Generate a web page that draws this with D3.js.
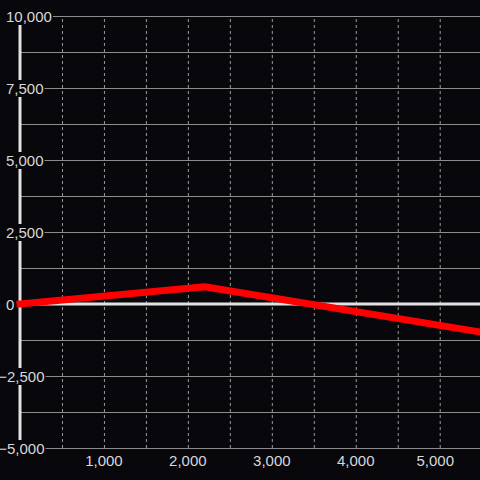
<!DOCTYPE html>
<html>
<head>
<meta charset="utf-8">
<script src="https://cdn.jsdelivr.net/npm/d3@7"></script>
<style>
  html, body { margin: 0; padding: 0; background: #08070b; }
  svg { display: block; }
  text { font-family: "Liberation Sans", Arial, sans-serif; font-size: 15px; fill: #d8d8d8; }
</style>
</head>
<body>
<script>
const width = 480;
const height = 480;

// data
const xValues = [0, 2200, 5480];
const yValues = [0, 600, -970];

// ticks
const xGridTicks = [500, 1000, 1500, 2000, 2500, 3000, 3500, 4000, 4500, 5000];
const xLabelTicks = [1000, 2000, 3000, 4000, 5000];
const yGridTicks = [-5000, -3750, -2500, -1250, 0, 1250, 2500, 3750, 5000, 6250, 7500, 8750, 10000];
const yLabelTicks = [10000, 7500, 5000, 2500, 0, -2500, -5000];

const bg = "#08070b";
const fmt = d3.format(",");

const svg = d3.select("body").append("svg")
    .attr("width", width).attr("height", height);

svg.append("rect").attr("width", width).attr("height", height).attr("fill", bg);

// scales
const x = d3.scaleLinear().domain([0, 5480]).range([20, 480]);
const y = d3.scaleLinear().domain([-5000, 10000]).range([448, 16]);

// horizontal grid
const yGrid = svg.append("g")
    .attr("transform", `translate(${x(0)},0)`)
    .call(d3.axisRight(y).tickValues(yGridTicks).tickSize(width - x(0)).tickFormat(""));
yGrid.select(".domain").remove();
yGrid.selectAll(".tick line").attr("stroke", "#8c8c8c").attr("stroke-width", 1);

// vertical dashed grid
const xGrid = svg.append("g")
    .attr("transform", `translate(0,${y(-5000)})`)
    .call(d3.axisTop(x).tickValues(xGridTicks).tickSize(y(-5000) - y(10000)).tickFormat(""));
xGrid.select(".domain").remove();
xGrid.selectAll(".tick line")
    .attr("stroke", "#9a9a9a").attr("stroke-width", 1)
    .attr("stroke-dasharray", "3,3");

// main axes (x = 0 and y = 0)
svg.append("line")
    .attr("x1", x(0)).attr("x2", x(0))
    .attr("y1", y(10000)).attr("y2", y(-5000))
    .attr("stroke", "#e2e2e2").attr("stroke-width", 3);
svg.append("line")
    .attr("x1", x(0)).attr("x2", width)
    .attr("y1", y(0)).attr("y2", y(0))
    .attr("stroke", "#e2e2e2").attr("stroke-width", 3);

// y labels with a background box, minus sign hangs to the left
const yLab = svg.append("g");
yLabelTicks.forEach(v => {
    const g = yLab.append("g");
    const t = g.append("text")
        .attr("x", 6).attr("y", y(v)).attr("dy", "0.4em")
        .text(fmt(v));
    if (v < 0) {
        const m = t.node().getSubStringLength(0, 1);
        t.attr("x", 7 - m);
    }
    const b = t.node().getBBox();
    g.insert("rect", "text")
        .attr("x", b.x - 1).attr("y", b.y)
        .attr("width", b.width + 2).attr("height", b.height)
        .attr("fill", bg);
});

// x labels, kept clear of the right edge
const xLab = svg.append("g");
xLabelTicks.forEach(v => {
    const t = xLab.append("text")
        .attr("x", x(v)).attr("y", y(-5000) + 18)
        .attr("text-anchor", "middle")
        .text(fmt(v));
    const w = t.node().getComputedTextLength();
    const cx = Math.min(x(v), width - 26 - w / 2);
    t.attr("x", cx);
});

// series line
const line = d3.line()
    .x((d, i) => x(xValues[i]))
    .y((d, i) => y(yValues[i]));

svg.append("path")
    .datum(xValues)
    .attr("d", line)
    .attr("fill", "none")
    .attr("stroke", "#ff0000")
    .attr("stroke-width", 7)
    .attr("stroke-linecap", "square")
    .attr("stroke-linejoin", "round");
</script>
</body>
</html>
